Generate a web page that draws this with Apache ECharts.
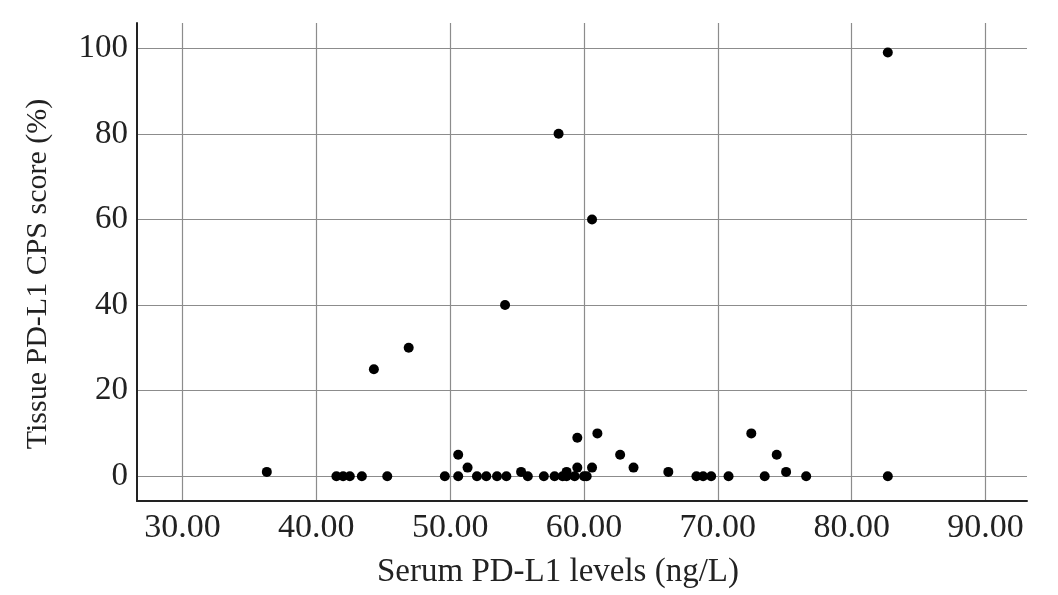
<!DOCTYPE html>
<html>
<head>
<meta charset="utf-8">
<script src="https://cdn.jsdelivr.net/npm/echarts@6/dist/echarts.min.js"></script>
<style>html,body{margin:0;padding:0;background:#fff;}#c{width:1058px;height:595px;}</style>
</head>
<body>
<div id="c"></div>
<script>
const serumLevels = [36.3,41.5,42.0,42.5,43.4,45.3,44.3,46.9,49.6,50.6,50.6,51.3,52.0,52.7,53.5,54.2,54.1,55.3,55.8,57.0,57.8,58.4,58.7,58.7,58.1,59.3,59.5,59.5,60.0,60.2,60.6,60.6,61.0,62.7,63.7,66.3,68.4,68.9,69.5,70.8,72.5,73.5,74.4,75.1,76.6,82.7,82.7];
const cpsScores   = [1,0,0,0,0,0,25,30,0,0,5,2,0,0,0,0,40,1,0,0,0,0,0,1,80,0,2,9,0,0,2,60,10,5,2,1,0,0,0,0,10,0,5,1,0,0,99];
const xTicks = [30,40,50,60,70,80,90];
const yTicks = [0,20,40,60,80,100];
const xName = 'Serum PD-L1 levels (ng/L)';
const yName = 'Tissue PD-L1 CPS score (%)';

const points = serumLevels.map((x,i)=>[x,cpsScores[i]]);
const font = 'Liberation Serif';
const chart = echarts.init(document.getElementById('c'), null, {renderer:'canvas'});
chart.setOption({
  animation:false,
  backgroundColor:'#fff',
  grid:{left:137,right:31,top:23,bottom:94,containLabel:false},
  xAxis:{
    type:'value', min:26.6, max:93.1,
    name:xName, nameLocation:'middle', nameGap:55,
    nameTextStyle:{fontFamily:font,fontSize:33,color:'#222',padding:[0,48,0,0]},
    axisLine:{show:true,onZero:false,lineStyle:{color:'#222',width:2}},
    axisTick:{show:false,customValues:xTicks},
    axisLabel:{customValues:xTicks,fontFamily:font,fontSize:34,color:'#222',margin:10,formatter:v=>v.toFixed(2)},
    splitLine:{show:true,lineStyle:{color:'#8c8c8c',width:1.2}}
  },
  yAxis:{
    type:'value', min:-5.8, max:105.9,
    name:yName, nameLocation:'middle', nameGap:84,
    nameTextStyle:{fontFamily:font,fontSize:30,color:'#222',padding:[0,24,0,0]},
    axisLine:{show:true,onZero:false,lineStyle:{color:'#222',width:2}},
    axisTick:{show:false,customValues:yTicks},
    axisLabel:{customValues:yTicks,fontFamily:font,fontSize:33,color:'#222',margin:9},
    splitLine:{show:true,lineStyle:{color:'#8c8c8c',width:1.2}}
  },
  series:[{
    type:'scatter', data:points, symbol:'circle', symbolSize:10,
    itemStyle:{color:'#000',opacity:1}
  }]
});
</script>
</body>
</html>
